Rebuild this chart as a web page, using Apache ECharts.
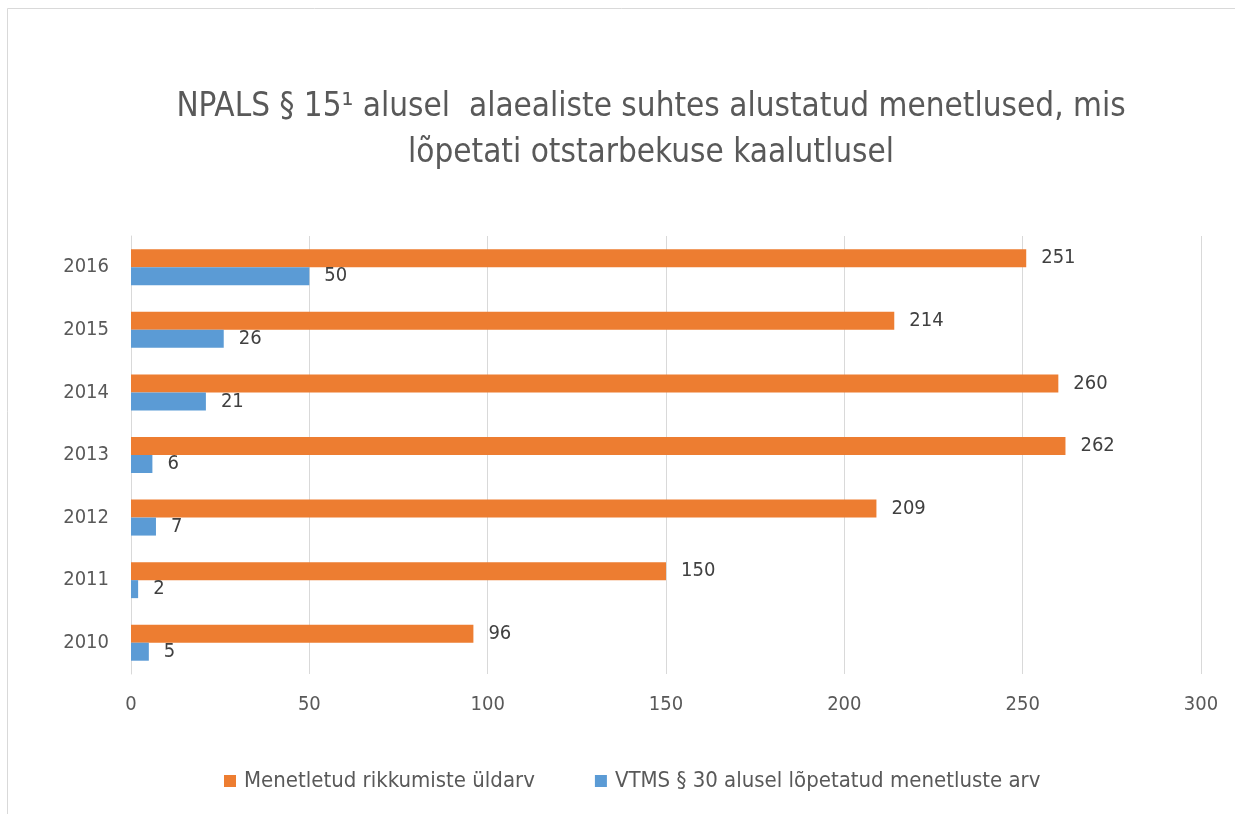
<!DOCTYPE html>
<html>
<head>
<meta charset="utf-8">
<script src="https://cdn.jsdelivr.net/npm/echarts@6/dist/echarts.min.js"></script>
<style>
  html, body { margin: 0; padding: 0; background: #fff; }
  #chart { width: 1235px; height: 814px; }
</style>
</head>
<body>
<div id="chart"></div>
<script>
const years = ['2010', '2011', '2012', '2013', '2014', '2015', '2016'];
const totalCases = [96, 150, 209, 262, 260, 214, 251];
const endedCases = [5, 2, 7, 6, 21, 26, 50];
const xTicks = [0, 50, 100, 150, 200, 250, 300];

const fontFamily = '"Liberation Sans Narrow", "DejaVu Sans Condensed", "Open Sans", sans-serif';

const chart = echarts.init(document.getElementById('chart'));

const labelStyle = {
  show: true,
  position: 'right',
  distance: 15,
  fontSize: 20,
  color: '#404040',
  fontFamily: fontFamily
};

const option = {
  backgroundColor: '#fff',
  textStyle: { fontFamily: fontFamily },
  graphic: [
    {
      type: 'rect',
      shape: { x: 7.5, y: 8.5, width: 1300, height: 900 },
      style: { fill: 'none', stroke: '#d9d9d9', lineWidth: 1 },
      silent: true
    }
  ],
  title: {
    text: 'NPALS § 15¹ alusel  alaealiste suhtes alustatud menetlused, mis\nlõpetati otstarbekuse kaalutlusel',
    left: 646,
    textAlign: 'center',
    top: 79,
    textStyle: {
      fontFamily: fontFamily,
      fontSize: 33,
      fontWeight: 'normal',
      color: '#595959',
      lineHeight: 46
    }
  },
  legend: {
    bottom: 17,
    left: 219,
    itemWidth: 12,
    itemHeight: 12,
    itemGap: 60,
    icon: 'rect',
    textStyle: { fontFamily: fontFamily, fontSize: 22, color: '#595959', padding: [0, 0, 0, 3] },
    data: ['Menetletud rikkumiste üldarv', 'VTMS § 30 alusel lõpetatud menetluste arv']
  },
  grid: {
    left: 131,
    right: 34,
    top: 236,
    bottom: 140
  },
  xAxis: {
    type: 'value',
    min: xTicks[0],
    max: xTicks[xTicks.length - 1],
    interval: 50,
    axisLine: { show: false },
    axisTick: { show: false },
    axisLabel: { fontSize: 20, color: '#595959', margin: 21, fontFamily: fontFamily },
    splitLine: { lineStyle: { color: '#d9d9d9', width: 1 } }
  },
  yAxis: {
    type: 'category',
    data: years,
    axisLine: { show: true, lineStyle: { color: '#d9d9d9', width: 1 } },
    axisTick: { show: false },
    axisLabel: { fontSize: 20, color: '#595959', margin: 22, fontFamily: fontFamily }
  },
  series: [
    {
      name: 'Menetletud rikkumiste üldarv',
      type: 'bar',
      data: totalCases,
      barWidth: 18,
      barGap: '0%',
      itemStyle: { color: '#ED7D31' },
      label: labelStyle
    },
    {
      name: 'VTMS § 30 alusel lõpetatud menetluste arv',
      type: 'bar',
      data: endedCases,
      barWidth: 18,
      barGap: '0%',
      itemStyle: { color: '#5B9BD5' },
      label: labelStyle
    }
  ]
};

chart.setOption(option);
</script>
</body>
</html>
